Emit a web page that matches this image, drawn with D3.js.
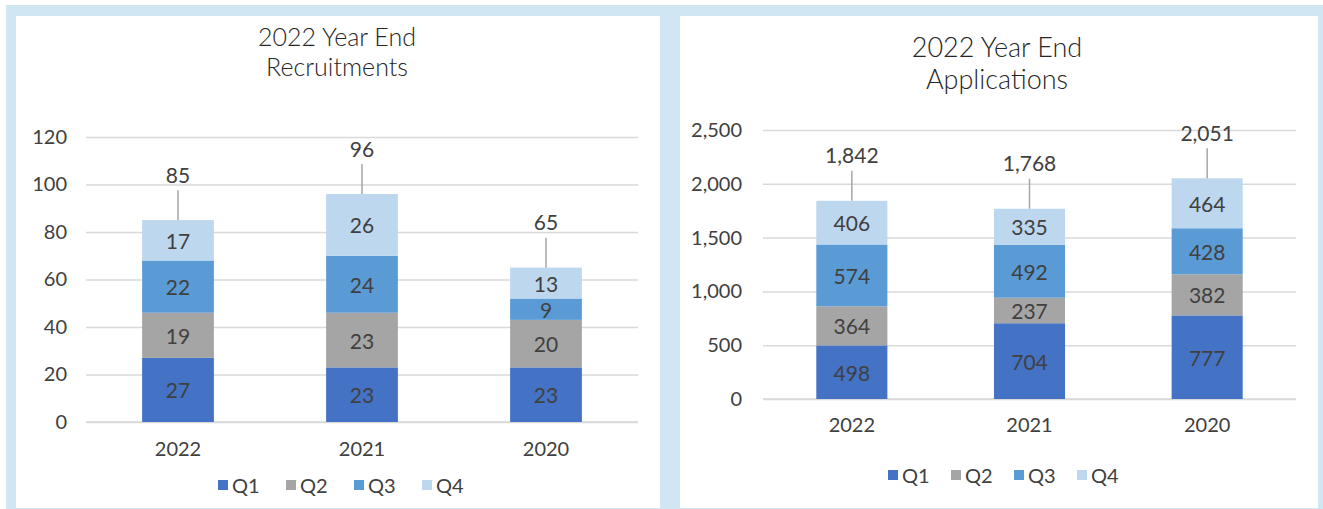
<!DOCTYPE html>
<html>
<head>
<meta charset="utf-8">
<script src="https://cdn.jsdelivr.net/npm/d3@7"></script>
<style>
  html, body { margin: 0; padding: 0; background: #ffffff; }
  svg { display: block; font-family: Lato, "Open Sans", sans-serif; }
</style>
</head>
<body>
<svg id="chart" width="1323" height="509"></svg>
<script>
// ---- data ----
const years = ["2022", "2021", "2020"];
const quarters = ["Q1", "Q2", "Q3", "Q4"];
const quarterColors = ["#4472c4", "#a5a5a5", "#5b9bd5", "#bdd7ee"];

const recruitQ1 = [27, 23, 23];
const recruitQ2 = [19, 23, 20];
const recruitQ3 = [22, 24, 9];
const recruitQ4 = [17, 26, 13];
const recruitTicks = [0, 20, 40, 60, 80, 100, 120];

const appQ1 = [498, 704, 777];
const appQ2 = [364, 237, 382];
const appQ3 = [574, 492, 428];
const appQ4 = [406, 335, 464];
const appTicks = [0, 500, 1000, 1500, 2000, 2500];

const svg = d3.select("#chart");
const textColor = "#404040";
const gridColor = "#d9d9d9";
const panelBlue = "#d0e6f2";

function drawPanel(cfg) {
  const g = svg.append("g");
  g.append("rect").attr("x", cfg.outer[0]).attr("y", cfg.outer[1])
    .attr("width", cfg.outer[2]).attr("height", cfg.outer[3]).attr("fill", panelBlue);
  g.append("rect").attr("x", cfg.inner[0]).attr("y", cfg.inner[1])
    .attr("width", cfg.inner[2]).attr("height", cfg.inner[3]).attr("fill", "#ffffff");

  cfg.title.forEach((t, i) => {
    g.append("text").attr("x", cfg.titleX).attr("y", cfg.titleY + i * cfg.titleGap)
      .attr("text-anchor", "middle").attr("dominant-baseline", "central")
      .attr("font-size", cfg.titleSize).attr("font-weight", 300)
      .attr("fill", "#262626").text(t);
  });

  const x = d3.scaleBand().domain(years).range([cfg.x0, cfg.x1]).paddingInner(cfg.pad).paddingOuter(cfg.pad / 2);
  const y = d3.scaleLinear().domain([0, cfg.ticks[cfg.ticks.length - 1]]).range([cfg.y0, cfg.y1]);

  const yAxis = d3.axisLeft(y).tickValues(cfg.ticks).tickSize(-(cfg.x1 - cfg.x0))
    .tickPadding(cfg.tickPad).tickFormat(d3.format(","));
  const ya = g.append("g").attr("transform", `translate(${cfg.x0},0)`).call(yAxis);
  ya.select(".domain").remove();
  ya.selectAll(".tick line").attr("stroke", gridColor).attr("stroke-width", 1.5);
  ya.selectAll(".tick text").attr("fill", textColor).attr("font-size", cfg.tickSize)
    .attr("font-family", "Lato, sans-serif");

  const xAxis = d3.axisBottom(x).tickSize(0).tickPadding(cfg.xPad);
  const xa = g.append("g").attr("transform", `translate(0,${cfg.y0})`).call(xAxis);
  xa.select(".domain").attr("stroke", gridColor).attr("stroke-width", 1.5)
    .attr("d", `M${cfg.x0},0H${cfg.x1}`);
  xa.selectAll(".tick text").attr("fill", textColor).attr("font-size", cfg.tickSize)
    .attr("font-family", "Lato, sans-serif");

  const rows = years.map((yr, i) => {
    const r = { year: yr };
    quarters.forEach((q, k) => r[q] = cfg.series[k][i]);
    return r;
  });
  const stack = d3.stack().keys(quarters)(rows);

  stack.forEach((layer, k) => {
    const lg = g.append("g");
    lg.selectAll("rect").data(layer).join("rect")
      .attr("x", d => x(d.data.year))
      .attr("width", x.bandwidth())
      .attr("y", d => y(d[1]))
      .attr("height", d => y(d[0]) - y(d[1]))
      .attr("fill", quarterColors[k]);
    lg.selectAll("text").data(layer).join("text")
      .attr("x", d => x(d.data.year) + x.bandwidth() / 2)
      .attr("y", d => (y(d[0]) + y(d[1])) / 2)
      .attr("text-anchor", "middle").attr("dominant-baseline", "central")
      .attr("font-size", cfg.labelSize).attr("fill", textColor)
      .text(d => d3.format(",")(d[1] - d[0]));
  });

  const totals = rows.map(r => ({ year: r.year, total: d3.sum(quarters, q => r[q]) }));
  const tg = g.append("g");
  totals.forEach(t => {
    const cx = x(t.year) + x.bandwidth() / 2;
    const top = y(t.total);
    tg.append("line").attr("x1", cx).attr("x2", cx)
      .attr("y1", top).attr("y2", top - cfg.leader)
      .attr("stroke", "#a6a6a6").attr("stroke-width", 1.5);
    tg.append("text").attr("x", cx).attr("y", top - cfg.leader - 16)
      .attr("text-anchor", "middle").attr("dominant-baseline", "central")
      .attr("font-size", cfg.labelSize).attr("fill", textColor)
      .text(d3.format(",")(t.total));
  });

  const legend = g.append("g");
  quarters.forEach((q, k) => {
    const lx = cfg.legendStart + k * cfg.legendStep;
    legend.append("rect").attr("x", lx).attr("y", cfg.legendY - 5)
      .attr("width", 10).attr("height", 10).attr("fill", quarterColors[k]);
    legend.append("text").attr("x", lx + 14).attr("y", cfg.legendY)
      .attr("dominant-baseline", "central").attr("font-size", cfg.legendSize)
      .attr("fill", textColor).text(q);
  });
}

drawPanel({
  outer: [6, 5, 664, 504], inner: [16, 16, 644, 492],
  title: ["2022 Year End", "Recruitments"], titleX: 337, titleY: 36, titleGap: 30, titleSize: 25,
  x0: 86, x1: 638, y0: 422, y1: 137, pad: 0.61,
  ticks: recruitTicks, tickPad: 19, tickSize: 20, xPad: 20,
  series: [recruitQ1, recruitQ2, recruitQ3, recruitQ4],
  labelSize: 21, leader: 30, legendSize: 20,
  legendStart: 218, legendY: 485, legendStep: 68
});

drawPanel({
  outer: [670, 5, 653, 504], inner: [680, 16, 638, 492],
  title: ["2022 Year End", "Applications"], titleX: 997, titleY: 46, titleGap: 32, titleSize: 27,
  x0: 763, x1: 1296, y0: 399, y1: 130, pad: 0.6,
  ticks: appTicks, tickPad: 21, tickSize: 20, xPad: 19,
  series: [appQ1, appQ2, appQ3, appQ4],
  labelSize: 21, leader: 30, legendSize: 20,
  legendStart: 888, legendY: 475, legendStep: 63
});
</script>
</body>
</html>
